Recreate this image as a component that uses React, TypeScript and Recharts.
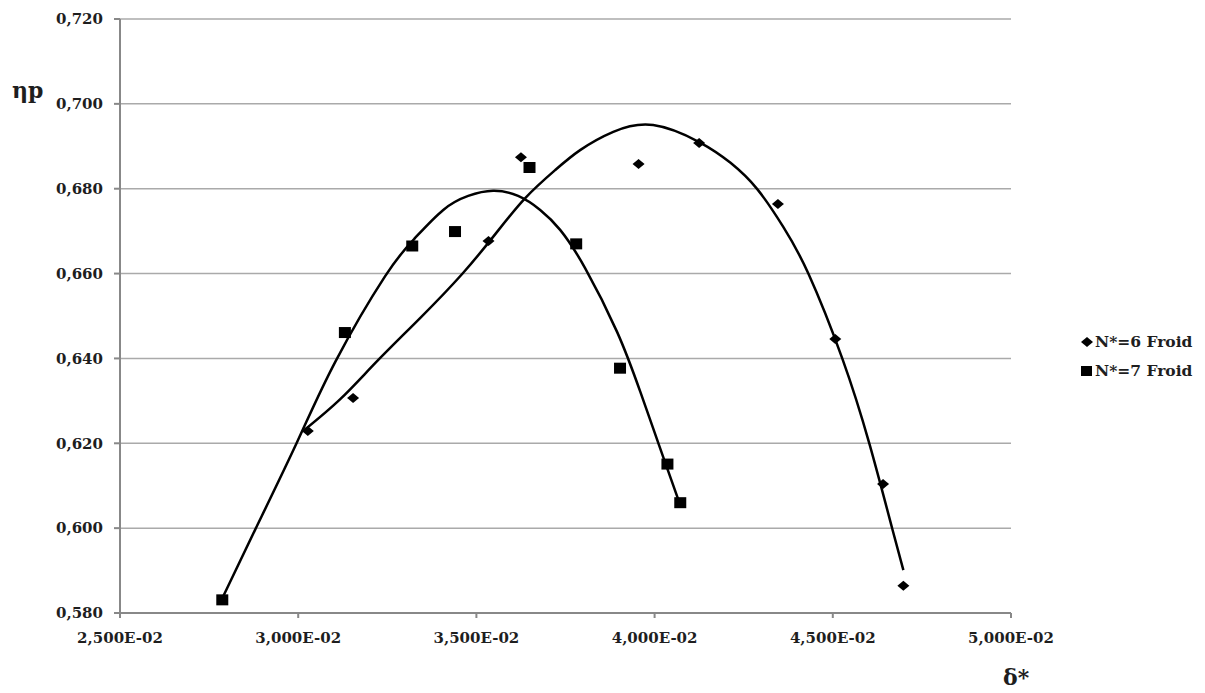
import React from 'react';
import { ComposedChart, Scatter, Line, XAxis, YAxis, CartesianGrid, Legend } from 'recharts';

// axis ticks
const xTicks = [0.025, 0.03, 0.035, 0.04, 0.045, 0.05];
const yTicks = [0.58, 0.6, 0.62, 0.64, 0.66, 0.68, 0.7, 0.72];

// N*=6 Froid measured points
const n6Delta = [0.03027, 0.03154, 0.03534, 0.03625, 0.03955, 0.04125, 0.04346, 0.04507, 0.04641, 0.04698];
const n6Eta = [0.6229, 0.6307, 0.6677, 0.6874, 0.6858, 0.6908, 0.6764, 0.6446, 0.6104, 0.5864];

// N*=7 Froid measured points
const n7Delta = [0.02787, 0.03131, 0.0332, 0.0344, 0.03649, 0.0378, 0.03903, 0.04036, 0.04072];
const n7Eta = [0.5831, 0.6461, 0.6665, 0.6699, 0.685, 0.667, 0.6377, 0.6151, 0.606];

// trend curves
const n6TrendDelta = [0.03014, 0.03118, 0.03222, 0.03342, 0.0346, 0.03553, 0.03637, 0.03721, 0.03791, 0.03884, 0.03996, 0.04125, 0.04213, 0.04288, 0.04361, 0.04432, 0.04527, 0.04603, 0.04667, 0.04698];
const n6TrendEta = [0.6229, 0.6304, 0.6394, 0.6495, 0.6599, 0.6693, 0.6778, 0.6844, 0.6891, 0.6934, 0.695, 0.691, 0.6861, 0.6799, 0.671, 0.6599, 0.6399, 0.6198, 0.5998, 0.5901];

const n7TrendDelta = [0.02786, 0.02879, 0.02997, 0.03104, 0.03244, 0.03328, 0.03407, 0.03477, 0.03547, 0.03617, 0.03679, 0.03735, 0.03805, 0.03895, 0.0396, 0.04024, 0.04067];
const n7TrendEta = [0.5833, 0.5996, 0.6203, 0.6392, 0.6594, 0.6684, 0.675, 0.6783, 0.6795, 0.6783, 0.675, 0.6703, 0.6613, 0.6462, 0.6321, 0.6168, 0.6066];

const zip = (xs: number[], ys: number[]) => xs.map((x, i) => ({ x, y: ys[i] }));

const n6Points = zip(n6Delta, n6Eta);
const n7Points = zip(n7Delta, n7Eta);
const n6Trend = zip(n6TrendDelta, n6TrendEta);
const n7Trend = zip(n7TrendDelta, n7TrendEta);

const FONT = '"DejaVu Serif", serif';
const TEXT = '#1e1e1e';
const AXIS = '#888';

const Diamond = (p: any) => (
    <path d={`M${p.cx},${p.cy - 5}L${p.cx + 6},${p.cy}L${p.cx},${p.cy + 5}L${p.cx - 6},${p.cy}Z`} fill="#000" />
);

const Square = (p: any) => (
    <rect x={p.cx - 6} y={p.cy - 5.5} width={12} height={11} fill="#000" />
);

const fmtX = (v: number) => (v * 100).toFixed(3).replace('.', ',') + 'E-02';
const fmtY = (v: number) => v.toFixed(3).replace('.', ',');

const LegendBox = () => (
    <div style={{ fontFamily: FONT, fontWeight: 'bold', fontSize: 15.5, color: TEXT, lineHeight: '29px' }}>
        <div style={{ display: 'flex', alignItems: 'center' }}>
            <svg width={14} height={12} style={{ marginRight: 1 }}>
                <path d="M7,1L13,6L7,11L1,6Z" fill="#000" />
            </svg>
            N*=6 Froid
        </div>
        <div style={{ display: 'flex', alignItems: 'center' }}>
            <svg width={14} height={12} style={{ marginRight: 1 }}>
                <rect x={1} y={1} width={11} height={10} fill="#000" />
            </svg>
            N*=7 Froid
        </div>
    </div>
);

const YTitle = (props: any) => {
    const { viewBox } = props;
    return (
        <text x={viewBox.x + 12} y={viewBox.y + 79} fontFamily={FONT} fontWeight="bold" fontSize={22} fill={TEXT}>ηp</text>
    );
};

const XTitle = (props: any) => {
    const { viewBox } = props;
    return (
        <text x={viewBox.x + viewBox.width - 8} y={viewBox.y + 72} fontFamily={FONT} fontWeight="bold" fontSize={22} fill={TEXT}>δ*</text>
    );
};

const App: React.FC = () => {
    return (
        <div style={{ position: 'absolute', left: 0, top: 0, width: 1205, height: 693, background: '#fff' }}>
            <ComposedChart width={1205} height={693} margin={{ top: 19, right: 194, bottom: 0, left: 0 }}>
                <CartesianGrid vertical={false} stroke="#aaa" strokeWidth={1.5} />
                <XAxis
                    dataKey="x"
                    type="number"
                    domain={[0.025, 0.05]}
                    ticks={xTicks}
                    tickFormatter={fmtX}
                    height={80}
                    stroke={AXIS}
                    strokeWidth={2}
                    tickSize={5}
                    tickMargin={14}
                    tick={{ fontFamily: FONT, fontWeight: 'bold', fontSize: 15, fill: TEXT }}
                    label={{ content: <XTitle /> }}
                    allowDataOverflow
                />
                <YAxis
                    dataKey="y"
                    type="number"
                    domain={[0.58, 0.72]}
                    ticks={yTicks}
                    tickFormatter={fmtY}
                    width={120}
                    stroke={AXIS}
                    strokeWidth={2}
                    tickSize={6}
                    tickMargin={11}
                    tick={{ fontFamily: FONT, fontWeight: 'bold', fontSize: 15, fill: TEXT }}
                    label={{ content: <YTitle /> }}
                    allowDataOverflow
                />
                <Legend
                    layout="vertical"
                    align="center"
                    verticalAlign="middle"
                    content={<LegendBox />}
                    wrapperStyle={{ position: 'absolute', left: 1080, top: 327, width: 125 }}
                />
                <Line data={n7Trend} dataKey="y" type="natural" stroke="#000" strokeWidth={2.5} dot={false} legendType="none" isAnimationActive={false} />
                <Line data={n6Trend} dataKey="y" type="natural" stroke="#000" strokeWidth={2.5} dot={false} legendType="none" isAnimationActive={false} />
                <Scatter name="N*=6 Froid" data={n6Points} dataKey="y" shape={<Diamond />} isAnimationActive={false} />
                <Scatter name="N*=7 Froid" data={n7Points} dataKey="y" shape={<Square />} isAnimationActive={false} />
            </ComposedChart>
        </div>
    );
};

export default App;
